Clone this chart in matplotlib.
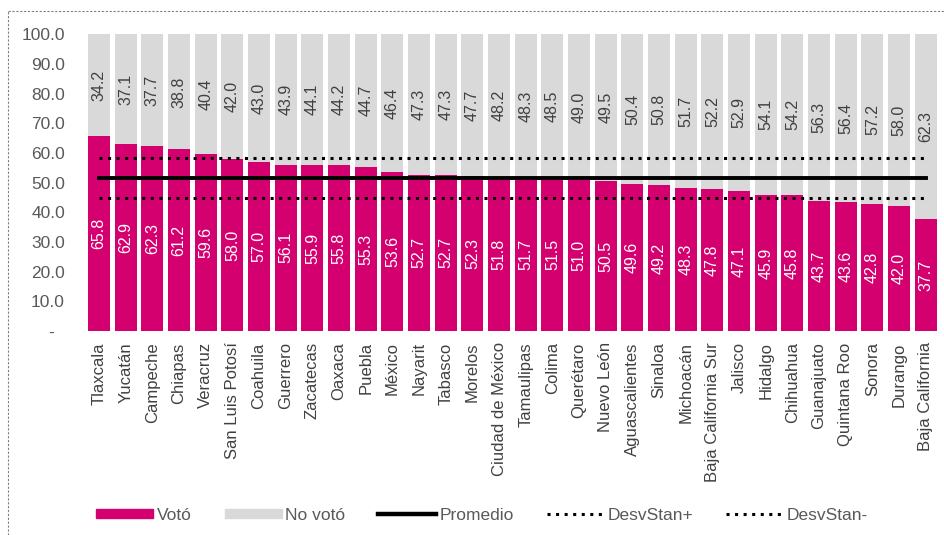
import numpy as np
from matplotlib import pyplot as plt
from matplotlib.lines import Line2D
from matplotlib.patches import Patch

plt.rcParams['font.family'] = ['Liberation Sans', 'DejaVu Sans']

estados = ["Tlaxcala", "Yucatán", "Campeche", "Chiapas", "Veracruz", "San Luis Potosí",
           "Coahuila", "Guerrero", "Zacatecas", "Oaxaca", "Puebla", "México", "Nayarit",
           "Tabasco", "Morelos", "Ciudad de México", "Tamaulipas", "Colima", "Querétaro",
           "Nuevo León", "Aguascalientes", "Sinaloa", "Michoacán", "Baja California Sur",
           "Jalisco", "Hidalgo", "Chihuahua", "Guanajuato", "Quintana Roo", "Sonora",
           "Durango", "Baja California"]
voto = [65.8, 62.9, 62.3, 61.2, 59.6, 58.0, 57.0, 56.1, 55.9, 55.8, 55.3, 53.6, 52.7,
        52.7, 52.3, 51.8, 51.7, 51.5, 51.0, 50.5, 49.6, 49.2, 48.3, 47.8, 47.1, 45.9,
        45.8, 43.7, 43.6, 42.8, 42.0, 37.7]
no_voto = [34.2, 37.1, 37.7, 38.8, 40.4, 42.0, 43.0, 43.9, 44.1, 44.2, 44.7, 46.4, 47.3,
           47.3, 47.7, 48.2, 48.3, 48.5, 49.0, 49.5, 50.4, 50.8, 51.7, 52.2, 52.9, 54.1,
           54.2, 56.3, 56.4, 57.2, 58.0, 62.3]
promedio = 51.6
desv_mas = 58.2
desv_menos = 44.9
yticks = [0, 10, 20, 30, 40, 50, 60, 70, 80, 90, 100]
ytick_labels = ["-  ", "10.0", "20.0", "30.0", "40.0", "50.0", "60.0", "70.0", "80.0", "90.0", "100.0"]

magenta = "#D5006F"
gris = "#D9D9D9"
texto = "#595959"
punteado = (0, (1, 1.8))

fig = plt.figure(figsize=(9.45, 5.35), dpi=100)
ax = fig.add_axes([0.0907, 0.381, 0.903, 0.555])

x = np.arange(len(estados))
ax.bar(x, voto, width=0.83, color=magenta, zorder=2)
ax.bar(x, no_voto, bottom=voto, width=0.83, color=gris, zorder=2)

ax.plot(x, [promedio]*len(x), color="black", lw=2.8, zorder=3)
ax.plot(x, [desv_mas]*len(x), color="black", lw=2.2, ls=punteado, zorder=3)
ax.plot(x, [desv_menos]*len(x), color="black", lw=2.2, ls=punteado, zorder=3)

for i in range(len(x)):
    ax.text(x[i], voto[i]/2, f"{voto[i]:.1f}", rotation=90, ha="center", va="center",
            color="white", fontsize=11.5, zorder=4)
    ax.text(x[i], voto[i] + no_voto[i]/2, f"{no_voto[i]:.1f}", rotation=90, ha="center",
            va="center", color="#404040", fontsize=11.5, zorder=4)

ax.set_xlim(-0.5, len(x) - 0.5)
ax.set_ylim(0, 100)
ax.set_yticks(yticks)
ax.set_yticklabels(ytick_labels, color=texto, fontsize=12.5)
ax.set_xticks(x)
ax.set_xticklabels(estados, rotation=90, color="#404040", fontsize=12)
ax.tick_params(length=0, pad=8)
ax.tick_params(axis="y", pad=15)
for s in ax.spines.values():
    s.set_visible(False)

handles = [Patch(color=magenta), Patch(color=gris),
           Line2D([], [], color="black", lw=3.2),
           Line2D([], [], color="black", lw=2.2, ls=punteado),
           Line2D([], [], color="black", lw=2.2, ls=punteado)]
etiquetas = ["Votó", "No votó", "Promedio", "DesvStan+", "DesvStan-"]
fig.legend(handles, etiquetas, loc="center", bbox_to_anchor=(0.51, 0.037), ncol=5,
           frameon=False, fontsize=12.5, handlelength=3.3, handleheight=0.5,
           handletextpad=0.2, columnspacing=1.9, labelcolor=texto)

# borde punteado de la figura
fig.add_artist(Line2D([8/945, 1], [1 - 11/535, 1 - 11/535], transform=fig.transFigure,
                      color="#808080", lw=0.8, ls=(0, (2, 1.5))))
fig.add_artist(Line2D([8/945, 8/945], [0, 1 - 11/535], transform=fig.transFigure,
                      color="#808080", lw=0.8, ls=(0, (2, 1.5))))

plt.savefig("out.png", dpi=100)
